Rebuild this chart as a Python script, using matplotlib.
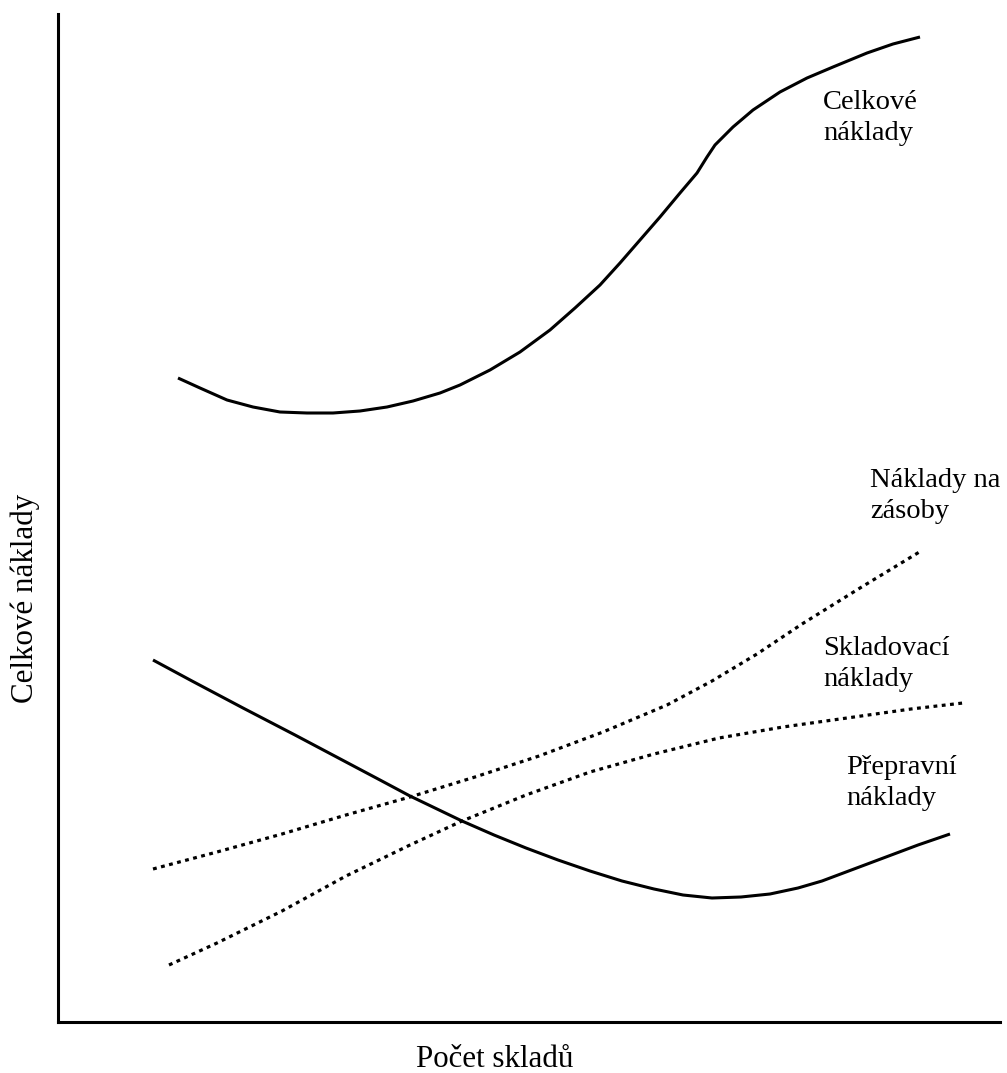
import matplotlib
matplotlib.use("Agg")
import matplotlib.pyplot as plt

# values (arbitrary units: x from the left axis, y above the bottom axis)
cel_x = [120, 142, 169, 195, 222, 249, 275, 302, 329, 355, 382, 402, 422, 432, 462, 492, 517,
         542, 562, 582, 602, 622, 639, 649, 657, 675, 695, 722, 749, 775, 809, 835, 862]
cel_y = [644, 634, 622, 615, 610, 609, 609, 611, 615, 621, 629, 637, 647, 652, 670, 692, 714,
         737, 759, 782, 805, 829, 849, 865, 877, 895, 912, 930, 944, 955, 969, 978, 985]

pre_x = [95, 134, 185, 237, 288, 322, 352, 404, 436, 468, 500, 532, 564, 596, 625, 654, 683,
         712, 740, 764, 796, 828, 860, 892]
pre_y = [362, 341, 314, 287, 260, 242, 226, 201, 187, 174, 162, 151, 141, 133, 127, 124, 125,
         128, 134, 141, 153, 165, 177, 188]

zas_x = [95, 159, 224, 288, 352, 417, 481, 545, 609, 654, 699, 744, 802, 863]
zas_y = [153, 170, 188, 207, 225, 245, 266, 290, 317, 341, 368, 398, 434, 471]

skl_x = [111, 159, 224, 288, 352, 404, 468, 532, 596, 661, 725, 789, 853, 905]
skl_y = [57, 79, 111, 146, 177, 201, 227, 250, 268, 284, 295, 304, 313, 319]

labels = ["Celkové\nnáklady", "Náklady na\nzásoby", "Skladovací\nnáklady", "Přepravní\nnáklady"]
label_pos = [(765, 932), (812, 554), (765, 386), (788, 267)]

plt.rcParams['font.family'] = ['Liberation Serif', 'DejaVu Serif']

W, H = 1007, 1073
fig = plt.figure(figsize=(W / 100, H / 100), dpi=100)
ax = fig.add_axes([58 / W, (H - 1022) / H, (1000 - 58) / W, (1022 - 14) / H])
ax.set_xlim(0, 942)
ax.set_ylim(0, 1008)

solid = dict(color='black', lw=2.2, solid_joinstyle='round', solid_capstyle='butt')
dotted = dict(color='black', lw=2.3, linestyle=(0, (1.2, 1.4)), dash_capstyle='butt')

ax.plot(cel_x, cel_y, **solid)
ax.plot(pre_x, pre_y, **solid)
ax.plot(zas_x, zas_y, **dotted)
ax.plot(skl_x, skl_y, **dotted)

for txt, (x, y) in zip(labels, label_pos):
    ax.text(x, y, txt, fontsize=20.5, va='top', ha='left', linespacing=1.29)

for s in ['top', 'right']:
    ax.spines[s].set_visible(False)
for s in ['left', 'bottom']:
    ax.spines[s].set_linewidth(2.2)
ax.set_xticks([])
ax.set_yticks([])

ax.text(437, -45, "Počet skladů", fontsize=22.3, ha='center', va='baseline')
ax.text(-33, 424, "Celkové náklady", fontsize=22.3, ha='center', va='center', rotation=90)

fig.savefig("out.png", dpi=100)
